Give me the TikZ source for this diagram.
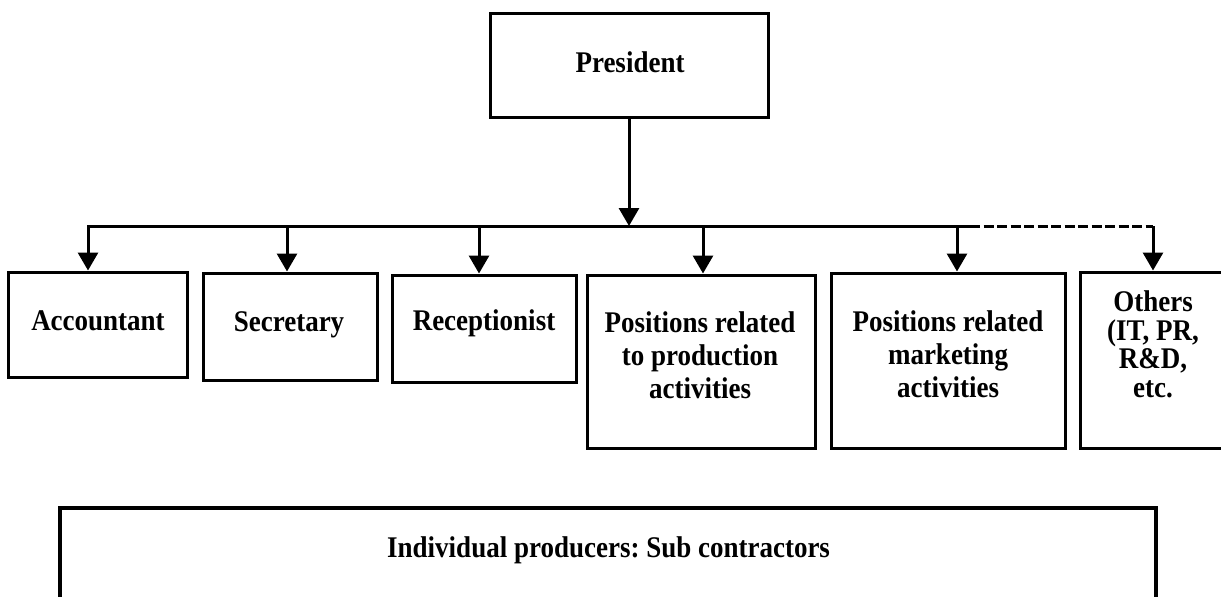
\documentclass[tikz,border=0pt]{standalone}
\usepackage{fontspec}
\setmainfont{Liberation Serif}[FakeStretch=0.9]
\usetikzlibrary{arrows.meta}
\frenchspacing
\tikzset{
  boxnode/.style={draw=black, line width=3pt, inner sep=0pt, fill=none},
  lbl/.style={font=\bfseries\fontsize{30}{33}\selectfont, inner sep=0pt, align=center},
  conn/.style={draw=black, line width=3pt},
  arr/.style={conn, -{Triangle[width=20pt,length=18pt]}},
  dashconn/.style={conn, dash pattern=on 10pt off 3.5pt}
}
\begin{document}
\begin{tikzpicture}[x=1pt,y=-1pt]
\useasboundingbox (0,0) rectangle (1221,597);
\fill[white] (0,0) rectangle (1221,597);

% boxes
\node[boxnode, minimum width=278pt, minimum height=104pt] (pres) at (629,65) {};
\node[boxnode, minimum width=179pt, minimum height=105pt] (acc) at (97.5,324.5) {};
\node[boxnode, minimum width=174pt, minimum height=107pt] (sec) at (290,326.5) {};
\node[boxnode, minimum width=184pt, minimum height=107pt] (rec) at (484,328.5) {};
\node[boxnode, minimum width=228pt, minimum height=173pt] (prod) at (701,361.5) {};
\node[boxnode, minimum width=234pt, minimum height=175pt] (mkt) at (948,360.5) {};
\node[boxnode, minimum width=146pt, minimum height=176pt] (oth) at (1153,360) {};
\node[boxnode, line width=4pt, minimum width=1096pt, minimum height=102pt] (ind) at (608,559) {};

% texts (multi-line nodes anchored at the baseline of their last line)
\node[lbl, anchor=base] (tpres) at (630,72.5) {President};
\node[lbl, anchor=base] (tacc) at (98,330) {Accountant};
\node[lbl, anchor=base] (tsec) at (289,331) {Secretary};
\node[lbl, anchor=base] (trec) at (484,330) {Receptionist};
\node[lbl, anchor=base] (tprod) at (700,398) {Positions related\\to production\\activities};
\node[lbl, anchor=base] (tmkt) at (948,397) {Positions related\\marketing\\activities};
\node[lbl, anchor=base, font=\bfseries\fontsize{30}{28.5}\selectfont] (toth) at (1153,397) {Others\\(IT, PR,\\R\&D,\\etc.};
\node[lbl, anchor=base west] (tind) at (387,557) {Individual producers: Sub contractors};

% bus coordinates
\coordinate (jPres) at (629,226);
\coordinate (jAcc) at (88,226);
\coordinate (jSec) at (287,226);
\coordinate (jRec) at (479,226);
\coordinate (jProd) at (703,226);
\coordinate (jMkt) at (957,226);
\coordinate (jDash) at (970,226);
\coordinate (jOth) at (1153,226);

% connectors
\draw[arr] (pres.south -| jPres) -- (jPres);
\draw[conn, line cap=rect] (jAcc) -- (jDash);
\draw[dashconn] (jDash) -- (jOth);
\draw[arr] (jAcc) -- (jAcc |- acc.north);
\draw[arr] (jSec) -- (jSec |- sec.north);
\draw[arr] (jRec) -- (jRec |- rec.north);
\draw[arr] (jProd) -- (jProd |- prod.north);
\draw[arr] (jMkt) -- (jMkt |- mkt.north);
\draw[arr] (jOth) -- (jOth |- oth.north);
\end{tikzpicture}
\end{document}
